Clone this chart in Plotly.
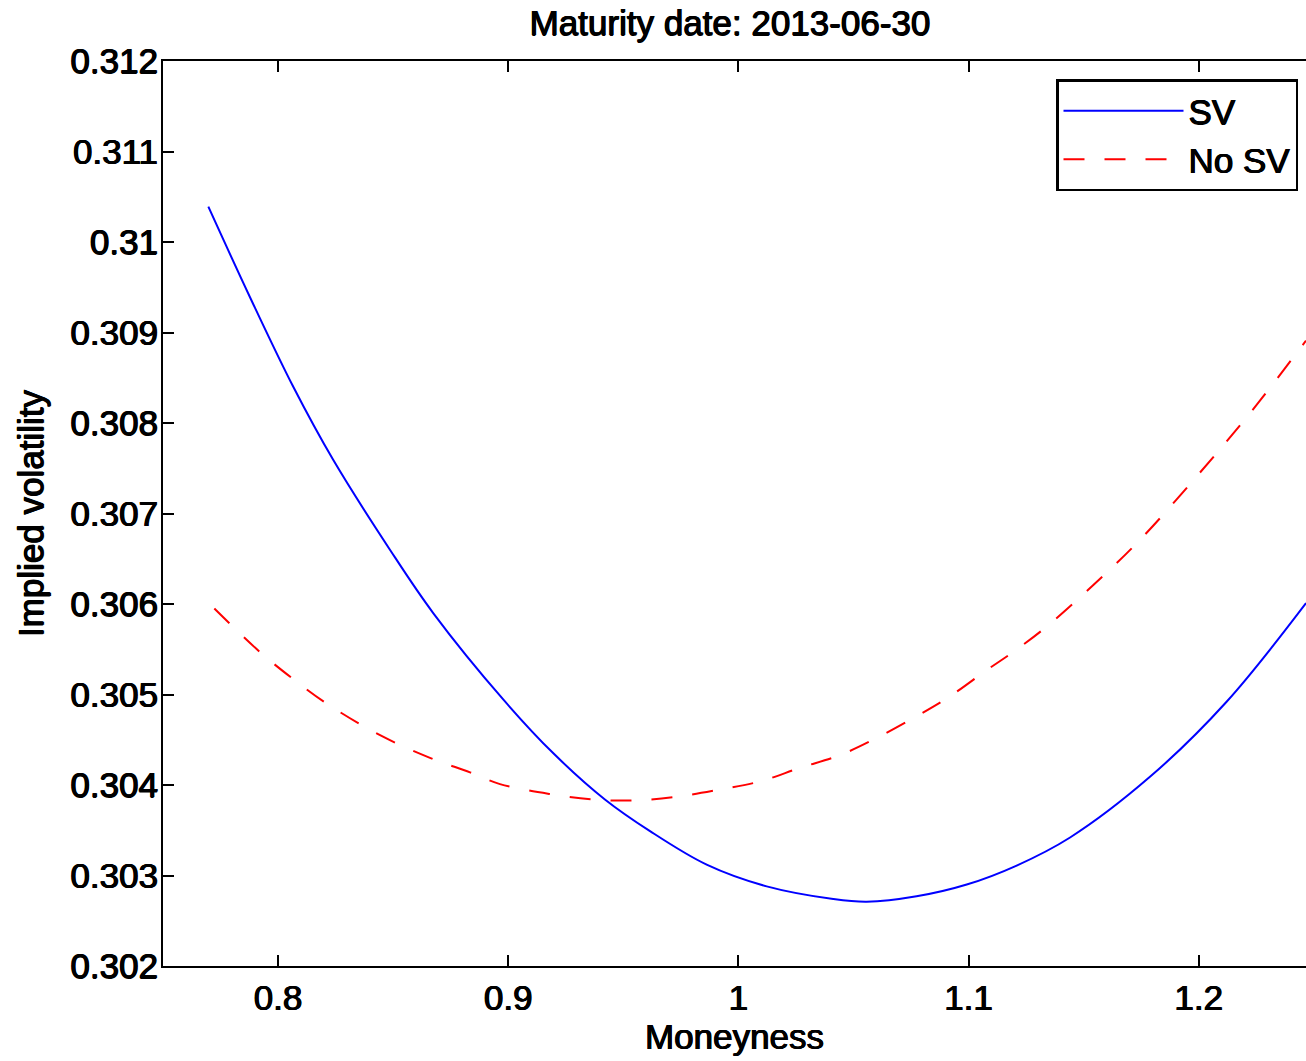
import plotly.graph_objects as go

# ---- data ----
sv_x = [0.7697, 0.7878, 0.8066, 0.8240, 0.8486, 0.8674, 0.8980, 0.9196, 0.9420,
        0.9616, 0.9862, 1.0123, 1.0412, 1.0557, 1.0774, 1.0992, 1.1209, 1.1441,
        1.1788, 1.2121, 1.2466]
sv_y = [0.31039, 0.30939, 0.30840, 0.30759, 0.30660, 0.30590, 0.30494, 0.30435, 0.30384,
        0.30349, 0.30312, 0.30288, 0.30274, 0.30271, 0.30277, 0.30290, 0.30311, 0.30342,
        0.30409, 0.30492, 0.30601]

nosv_x = [0.7723, 0.7921, 0.8066, 0.8211, 0.8443, 0.8660, 0.8834, 0.8964, 0.9181,
          0.9370, 0.9543, 0.9732, 0.9920, 1.0094, 1.0268, 1.0441, 1.0601, 1.0774,
          1.0919, 1.1079, 1.1194, 1.1339, 1.1542, 1.1745, 1.1991, 1.2223, 1.2466]
nosv_y = [0.30595, 0.30547, 0.30517, 0.30490, 0.30455, 0.30430, 0.30414, 0.30401, 0.30390,
          0.30384, 0.30383, 0.30387, 0.30395, 0.30404, 0.30419, 0.30433, 0.30452, 0.30476,
          0.30498, 0.30527, 0.30547, 0.30575, 0.30621, 0.30671, 0.30741, 0.30811, 0.30891]

x_tickvals = [0.8, 0.9, 1.0, 1.1, 1.2]
x_ticktext = ["0.8", "0.9", "1", "1.1", "1.2"]
y_tickvals = [0.302, 0.303, 0.304, 0.305, 0.306, 0.307, 0.308, 0.309, 0.310, 0.311, 0.312]
y_ticktext = ["0.302", "0.303", "0.304", "0.305", "0.306", "0.307", "0.308", "0.309",
              "0.31", "0.311", "0.312"]

x_range = [0.75, 1.2466]
y_range = [0.302, 0.312]

FONT = "Liberation Sans, Arial, Helvetica, sans-serif"
FS = 35
SHADOW = "0.6px 0 0 black, -0.6px 0 0 black, 0 0.4px 0 black"


def tfont(size=FS):
    return dict(family=FONT, size=size, color="black", shadow=SHADOW)


W, H = 1306, 1061
L, T = 163, 61
B = H - 966
PW = W - L
PH = H - T - B

fig = go.Figure()
fig.add_trace(go.Scatter(x=sv_x, y=sv_y, mode="lines", name="SV",
                         line=dict(color="#0000ff", width=2, shape="spline")))
fig.add_trace(go.Scatter(x=nosv_x, y=nosv_y, mode="lines", name="No SV",
                         line=dict(color="#ff0000", width=2, dash="21px,20px", shape="spline")))

fig.update_layout(
    width=W, height=H,
    margin=dict(l=L, r=0, t=T, b=B, pad=0),
    paper_bgcolor="white", plot_bgcolor="white",
    font=dict(family=FONT, size=FS, color="black"),
    title=dict(text="Maturity date: 2013-06-30", x=730 / W, xanchor="center",
               y=1 - 23 / H, yanchor="middle", font=tfont()),
    xaxis=dict(range=x_range, tickvals=x_tickvals, ticktext=x_ticktext,
               showgrid=False, zeroline=False, showline=True, linecolor="black", linewidth=2,
               mirror="ticks", ticks="inside", ticklen=11, tickwidth=1.5, tickcolor="black",
               title=dict(text="Moneyness", standoff=8, font=tfont()),
               tickfont=tfont()),
    yaxis=dict(range=y_range, tickvals=y_tickvals, ticktext=y_ticktext,
               showgrid=False, zeroline=False, showline=True, linecolor="black", linewidth=2,
               mirror=False, ticks="inside", ticklen=11, tickwidth=1.5, tickcolor="black",
               ticklabelstandoff=-4,
               title=dict(text="Implied volatility", standoff=16, font=tfont()),
               tickfont=tfont()),
    yaxis2=dict(range=y_range, tickvals=y_tickvals, overlaying="y", side="right",
                anchor="x", showgrid=False, zeroline=False, showline=False,
                ticks="inside", ticklen=5, tickwidth=1.5, tickcolor="black",
                showticklabels=False),
    legend=dict(x=(1298 - 163) / PW, xanchor="right", y=(966 - 79) / PH, yanchor="top",
                bordercolor="black", borderwidth=2.5, bgcolor="white",
                font=tfont(), itemwidth=120, tracegroupgap=0),
    showlegend=True,
)

fig.write_html(
    "out.html",
    config={"displayModeBar": False},
    post_script="document.body.style.margin='0';document.body.style.overflow='hidden';",
)
